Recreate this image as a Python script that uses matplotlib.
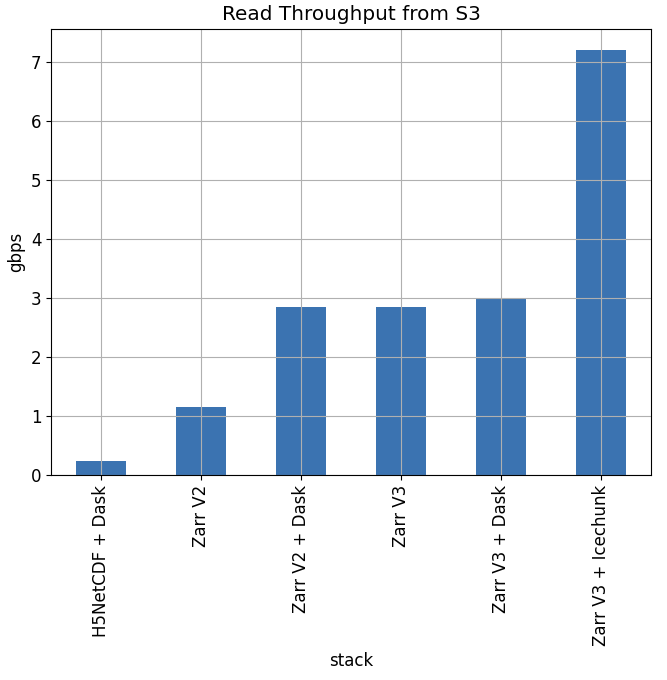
import matplotlib
matplotlib.use("Agg")
import matplotlib.pyplot as plt

# values
stacks = ["H5NetCDF + Dask", "Zarr V2", "Zarr V2 + Dask", "Zarr V3", "Zarr V3 + Dask", "Zarr V3 + Icechunk"]
gbps = [0.25, 1.15, 2.86, 2.86, 2.99, 7.21]

plt.rcParams["font.size"] = 12

fig, ax = plt.subplots(figsize=(6.67, 6.8), dpi=100)

x = range(len(stacks))
ax.bar(x, gbps, width=0.5, color="#3b73b1")
ax.set_xlim(-0.5, len(stacks) - 0.5)
ax.set_xticks(list(x))
ax.set_xticklabels(stacks, rotation=90)
ax.grid(True)

ax.set_title("Read Throughput from S3", fontsize=14.4)
ax.set_xlabel("stack")
ax.set_ylabel("gbps")

fig.subplots_adjust(left=0.0765, right=0.976, top=0.958, bottom=0.301)
fig.savefig("out.png")
